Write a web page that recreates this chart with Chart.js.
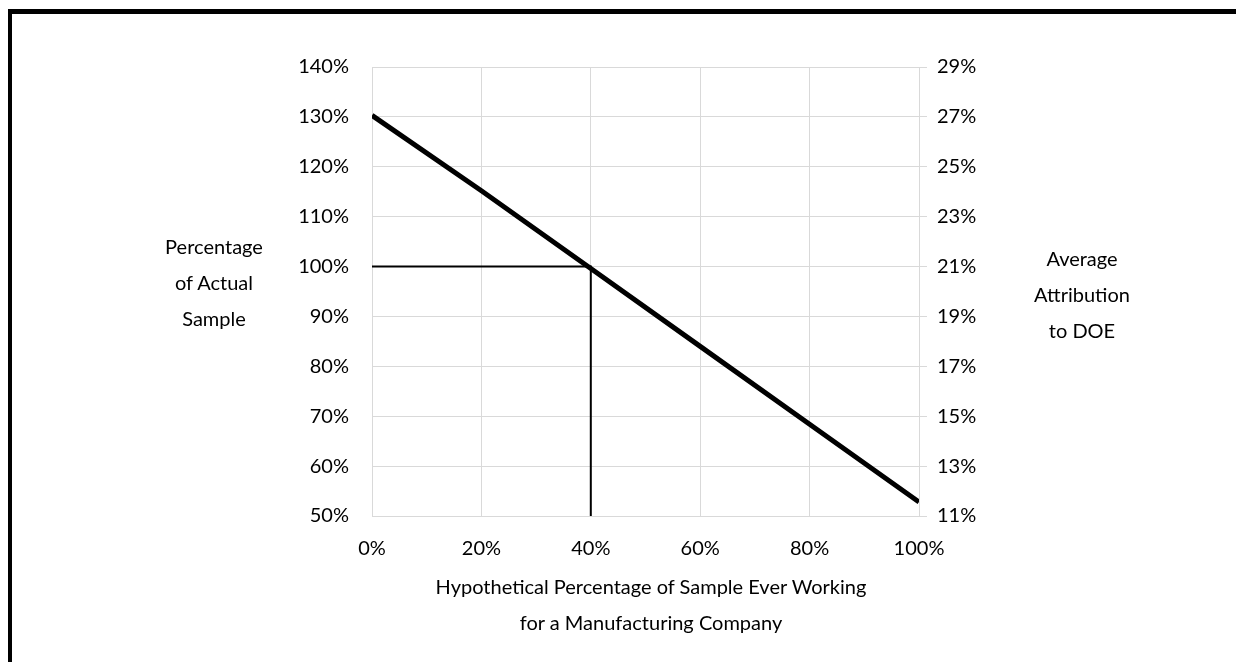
<!DOCTYPE html>
<html>
<head>
<meta charset="utf-8">
<script src="https://cdn.jsdelivr.net/npm/chart.js@4"></script>
<style>
  html, body { margin: 0; padding: 0; background: #fff; overflow: hidden; }
  #wrap { position: relative; width: 1236px; height: 662px; }
  #frame { position: absolute; left: 8px; top: 9px; width: 2000px; height: 2000px;
           border-left: 4px solid #000; border-top: 5px solid #000; box-sizing: border-box; }
  canvas { position: absolute; left: 0; top: 0; }
  .ttl { position: absolute; font-family: Lato, "Open Sans", sans-serif; font-size: 20px;
         line-height: 36px; color: #000; text-align: center; white-space: nowrap;
         transform: translateX(-50%); }
</style>
</head>
<body>
<div id="wrap">
  <div id="frame"></div>
  <canvas id="c" width="1236" height="662"></canvas>
  <div class="ttl" style="left:214px; top:228px;">Percentage<br>of Actual<br>Sample</div>
  <div class="ttl" style="left:1082px; top:240px;">Average<br>Attribution<br>to DOE</div>
  <div class="ttl" style="left:651px; top:568px;">Hypothetical Percentage of Sample Ever Working<br>for a Manufacturing Company</div>
</div>
<script>
// Data
const hypotheticalPct = [0, 20, 40, 60, 80, 100];
const actualSamplePct = [130.3, 115.2, 99.6, 84.0, 68.4, 52.8];
const refLineX = [0, 40, 40];
const refLineY = [100, 100, 50];
const leftTicks = [50, 140, 10];   // min, max, step
const rightTicks = [11, 29, 2];    // min, max, step
const xTicks = [0, 100, 20];

const FONT = { family: 'Lato, "Open Sans", sans-serif', size: 20 };
const GRID = '#d9d9d9';

new Chart(document.getElementById('c'), {
  type: 'line',
  data: {
    datasets: [
      {
        data: hypotheticalPct.map((x, i) => ({ x: x, y: actualSamplePct[i] })),
        borderColor: '#000', borderWidth: 5, pointRadius: 0, tension: 0,
        yAxisID: 'y', order: 1
      },
      {
        data: refLineX.map((x, i) => ({ x: x, y: refLineY[i] })),
        borderColor: '#000', borderWidth: 2, pointRadius: 0, tension: 0,
        yAxisID: 'y', order: 2
      }
    ]
  },
  options: {
    responsive: false,
    animation: false,
    events: [],
    layout: { padding: { top: 67, left: 0, right: 0, bottom: 0 } },
    plugins: { legend: { display: false }, tooltip: { enabled: false } },
    scales: {
      x: {
        type: 'linear', min: xTicks[0], max: xTicks[1],
        ticks: { stepSize: xTicks[2], color: '#000', font: FONT, padding: 21,
                 callback: v => v + '%', maxRotation: 0 },
        grid: { color: GRID, drawTicks: false },
        border: { color: GRID },
        afterFit: s => { s.height = 146; }
      },
      y: {
        type: 'linear', position: 'left', min: leftTicks[0], max: leftTicks[1],
        ticks: { stepSize: leftTicks[2], color: '#000', font: FONT, padding: 23,
                 callback: v => v + '%' },
        grid: { color: GRID, drawTicks: false },
        border: { color: GRID },
        afterFit: s => { s.width = 372; }
      },
      y2: {
        type: 'linear', position: 'right', min: rightTicks[0], max: rightTicks[1],
        ticks: { stepSize: rightTicks[2], color: '#000', font: FONT, padding: 10,
                 callback: v => v + '%' },
        grid: { drawOnChartArea: false, color: GRID, tickLength: 8, tickColor: GRID },
        border: { color: GRID },
        afterFit: s => { s.width = 317; }
      }
    }
  }
});
</script>
</body>
</html>
